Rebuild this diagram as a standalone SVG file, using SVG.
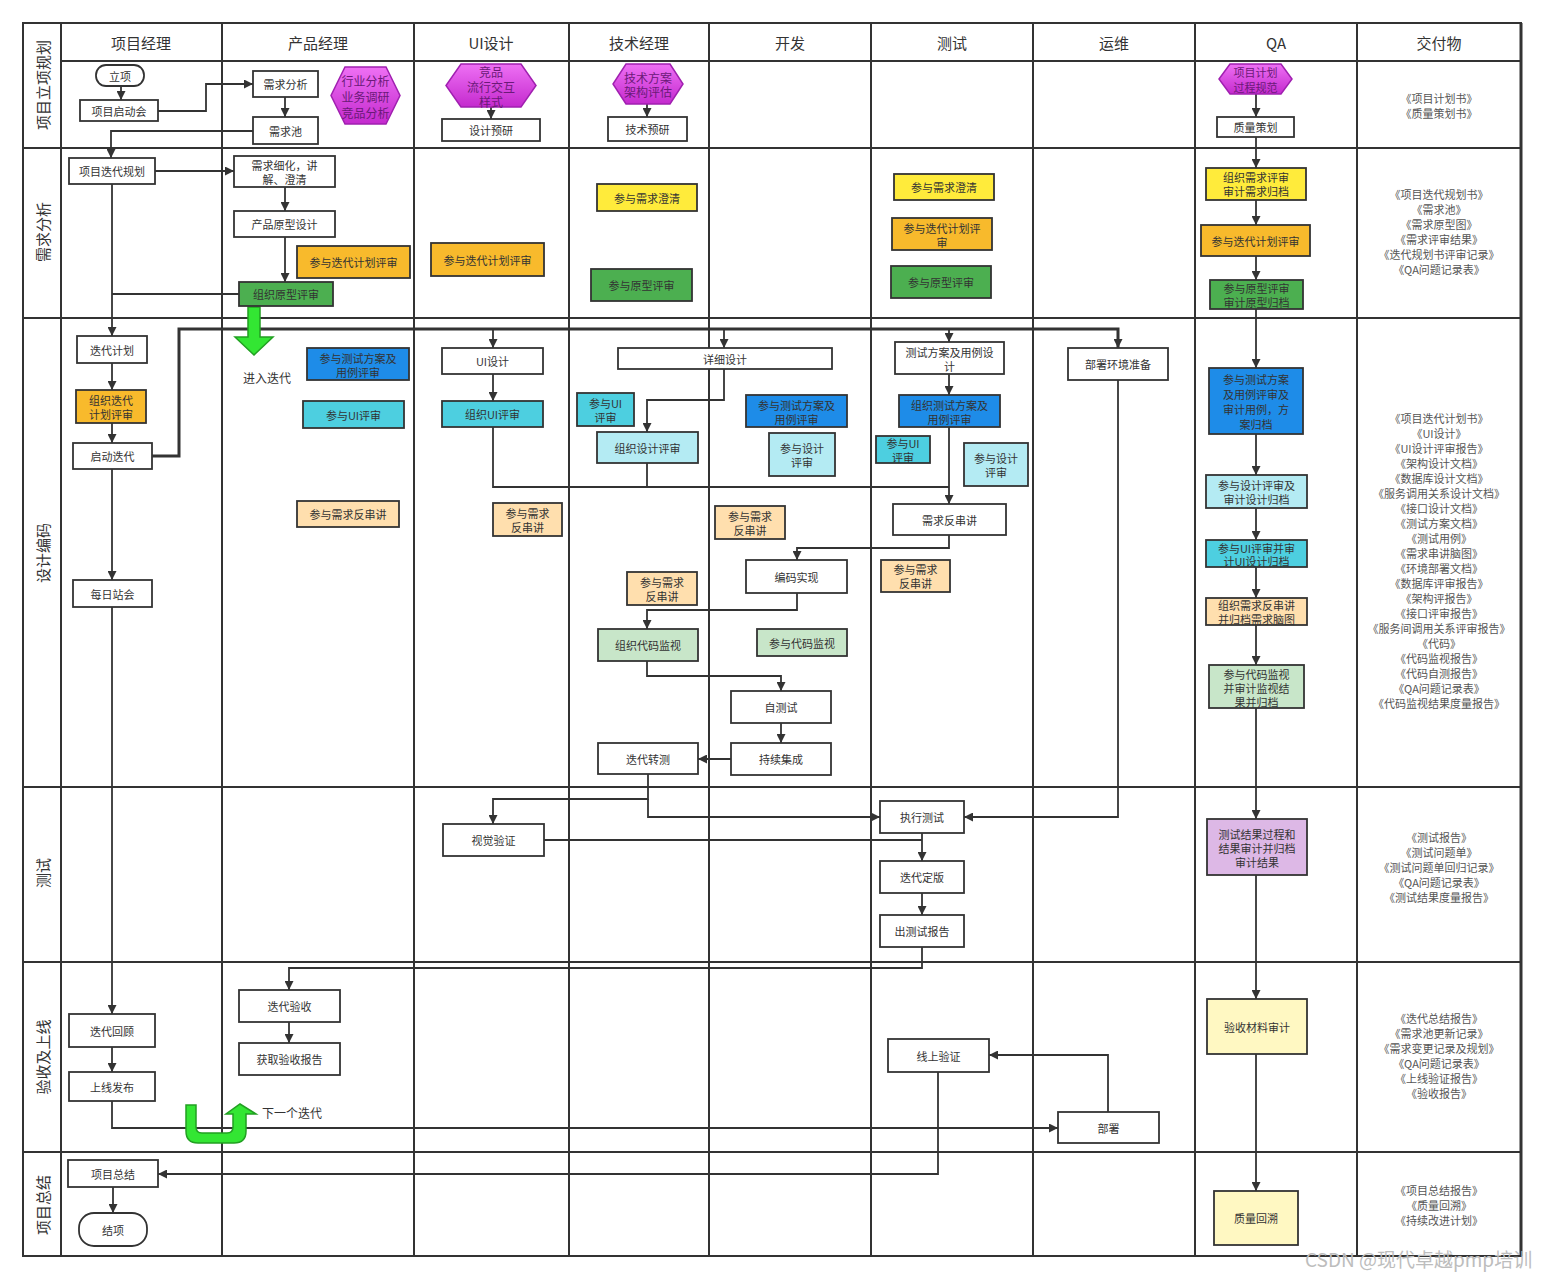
<svg xmlns="http://www.w3.org/2000/svg" width="1546" height="1280" viewBox="0 0 1546 1280">
<defs>
<style>
.g{stroke:#333;stroke-width:2;fill:none}
.n{fill:#fff;stroke:#333;stroke-width:1.8}
.or{fill:#F8BA2C;stroke:#333;stroke-width:1.8}
.ye{fill:#FFEB3B;stroke:#333;stroke-width:1.8}
.gr{fill:#4CAF50;stroke:#333;stroke-width:1.8}
.bl{fill:#1E8CE8;stroke:#333;stroke-width:1.8}
.cy{fill:#4DCFE0;stroke:#333;stroke-width:1.8}
.lc{fill:#B4EBF3;stroke:#333;stroke-width:1.8}
.pe{fill:#FFDFAE;stroke:#333;stroke-width:1.8}
.lg{fill:#C8E6C9;stroke:#333;stroke-width:1.8}
.li{fill:#DDB8E6;stroke:#333;stroke-width:1.8}
.py{fill:#FFF8C2;stroke:#333;stroke-width:1.8}
.hx{fill:url(#hg);stroke:#A020B0;stroke-width:1.5}
.t{font-family:"Noto Sans CJK SC","Liberation Sans",sans-serif;font-size:11px;fill:#333;text-anchor:middle;dominant-baseline:central}
.th{font-family:"Noto Sans CJK SC","Liberation Sans",sans-serif;font-size:12px;fill:#6B1A78;text-anchor:middle;dominant-baseline:central}
.h{font-family:"Noto Sans CJK SC","Liberation Sans",sans-serif;font-size:15px;fill:#333;text-anchor:middle;dominant-baseline:central}
.d{font-family:"Noto Sans CJK SC","Liberation Sans",sans-serif;font-size:11px;fill:#555;text-anchor:middle}
.l{font-family:"Noto Sans CJK SC","Liberation Sans",sans-serif;font-size:12px;fill:#333;text-anchor:middle;dominant-baseline:central}
.c{stroke:#333;stroke-width:1.8;fill:none;marker-end:url(#a)}
.c0{stroke:#333;stroke-width:1.8;fill:none}
.ga{fill:#33E633;stroke:#22A022;stroke-width:1.5}
</style>
<linearGradient id="hg" x1="0" y1="0" x2="0" y2="1">
<stop offset="0" stop-color="#EE70F4"/>
<stop offset="1" stop-color="#C42ACE"/>
</linearGradient>
<marker id="a" viewBox="0 0 10 10" refX="10" refY="5" markerWidth="9" markerHeight="9" markerUnits="userSpaceOnUse" orient="auto">
<path d="M0,0 L10,5 L0,10 z" fill="#333"/>
</marker>
</defs>
<rect width="1546" height="1280" fill="#fff"/>

<g id="grid">
<rect x="23" y="23" width="1498" height="1233" class="g"/>
<line x1="1521" y1="23" x2="1521" y2="1256" stroke="#333" stroke-width="3"/>
<line x1="61" y1="61" x2="1521" y2="61" class="g"/>
<line x1="23" y1="148" x2="1521" y2="148" class="g"/>
<line x1="23" y1="318" x2="1521" y2="318" class="g"/>
<line x1="23" y1="787" x2="1521" y2="787" class="g"/>
<line x1="23" y1="962" x2="1521" y2="962" class="g"/>
<line x1="23" y1="1152" x2="1521" y2="1152" class="g"/>
<line x1="61" y1="23" x2="61" y2="1256" class="g"/>
<line x1="222" y1="23" x2="222" y2="1256" class="g"/>
<line x1="414" y1="23" x2="414" y2="1256" class="g"/>
<line x1="569" y1="23" x2="569" y2="1256" class="g"/>
<line x1="709" y1="23" x2="709" y2="1256" class="g"/>
<line x1="871" y1="23" x2="871" y2="1256" class="g"/>
<line x1="1033" y1="23" x2="1033" y2="1256" class="g"/>
<line x1="1195" y1="23" x2="1195" y2="1256" class="g"/>
<line x1="1357" y1="23" x2="1357" y2="1256" class="g"/>
</g>

<g id="headers">
<text class="h" x="141" y="42">项目经理</text>
<text class="h" x="318" y="42">产品经理</text>
<text class="h" x="491" y="42">UI设计</text>
<text class="h" x="639" y="42">技术经理</text>
<text class="h" x="790" y="42">开发</text>
<text class="h" x="952" y="42">测试</text>
<text class="h" x="1114" y="42">运维</text>
<text class="h" x="1276" y="42">QA</text>
<text class="h" x="1439" y="42">交付物</text>
<text class="h" transform="translate(42,85) rotate(-90)">项目立项规划</text>
<text class="h" transform="translate(42,232) rotate(-90)">需求分析</text>
<text class="h" transform="translate(42,553) rotate(-90)">设计编码</text>
<text class="h" transform="translate(42,873) rotate(-90)">测试</text>
<text class="h" transform="translate(42,1057) rotate(-90)">验收及上线</text>
<text class="h" transform="translate(42,1205) rotate(-90)">项目总结</text>
</g>

<g id="connectors">
<path class="c" d="M121,86 V100"/>
<path class="c" d="M158,111 H206 V84 H253"/>
<path class="c" d="M285,97 V117"/>
<path class="c" d="M253,131 H111 V158"/>
<path class="c" d="M491,107 V119"/>
<path class="c" d="M647,104 V117"/>
<path class="c" d="M1256,94 V117"/>
<path class="c" d="M1256,137 V168"/>
<path class="c" d="M155,171 H234"/>
<path class="c" d="M285,187 V211"/>
<path class="c" d="M285,237 V282"/>
<path class="c" d="M1256,200 V225"/>
<path class="c" d="M1256,256 V280"/>
<path class="c" d="M1256,309 V368"/>
<path class="c" d="M112,184 V336"/>
<path class="c0" d="M112,294 H239"/>
<path class="c" d="M112,363 V390"/>
<path class="c" d="M112,423 V443"/>
<path class="c" d="M112,469 V580"/>
<path class="c" d="M112,607 V1014"/>
<path d="M152,456 H179 V329 H1118 V348" stroke="#333" stroke-width="3" fill="none" marker-end="url(#a)"/>
<path class="c" d="M493,329 V348"/>
<path class="c" d="M724,329 V348"/>
<path class="c" d="M949,329 V342"/>
<path class="c" d="M493,374 V401"/>
<path class="c0" d="M493,427 V487 H949"/>
<path class="c0" d="M647,463 V487"/>
<path class="c" d="M724,369 V400 H647 V432"/>
<path class="c" d="M949,374 V395"/>
<path class="c" d="M949,427 V504"/>
<path class="c" d="M949,535 V548 H797 V560"/>
<path class="c" d="M797,593 V610 H647 V629"/>
<path class="c" d="M647,661 V676 H781 V691"/>
<path class="c" d="M781,723 V743"/>
<path class="c" d="M731,759 H698"/>
<path class="c" d="M648,774 V799 H493 V824"/>
<path class="c" d="M648,799 V817 H880"/>
<path class="c" d="M1118,380 V817 H964"/>
<path class="c0" d="M544,840 H922"/>
<path class="c" d="M922,833 V861"/>
<path class="c" d="M922,893 V915"/>
<path class="c" d="M922,947 V968 H289 V990"/>
<path class="c" d="M289,1022 V1043"/>
<path class="c" d="M112,1047 V1072"/>
<path class="c" d="M112,1101 V1128 H1058"/>
<path class="c" d="M1108,1112 V1055 H989"/>
<path class="c" d="M938,1072 V1174 H158"/>
<path class="c" d="M113,1187 V1213"/>
<path class="c" d="M1256,434 V475"/>
<path class="c" d="M1256,508 V540"/>
<path class="c" d="M1256,567 V598"/>
<path class="c" d="M1256,625 V665"/>
<path class="c" d="M1256,708 V819"/>
<path class="c" d="M1256,875 V999"/>
<path class="c" d="M1256,1054 V1191"/>
</g>

<g id="green-arrows">
<polygon class="ga" points="248,307 260,307 260,337 273,337 254,355 235,337 248,337"/>
<text class="l" x="267" y="377">进入迭代</text>
<path class="ga" d="M186,1105 L196,1105 L196,1127 Q196,1133 202,1133 L227,1133 Q233,1133 233,1127 L233,1114 L226,1114 L240,1104 L256,1114 L246,1114 L246,1131 Q246,1143 234,1143 L198,1143 Q186,1143 186,1131 Z"/>
<text class="l" x="262" y="1112" style="text-anchor:start">下一个迭代</text>
</g>

<g id="n_lixiang"><rect class="n" x="96" y="65" width="48" height="21" rx="10"/><text class="t" x="120" y="75.5">立项</text></g>
<g id="n_qidonghui"><rect class="n" x="80" y="100" width="78" height="21"/><text class="t" x="119" y="110.5">项目启动会</text></g>
<g id="n_xqfx"><rect class="n" x="253" y="71" width="65" height="26"/><text class="t" x="285.5" y="84">需求分析</text></g>
<g id="n_xqc"><rect class="n" x="253" y="117" width="65" height="27"/><text class="t" x="285.5" y="130.5">需求池</text></g>
<g id="n_hex_pm"><polygon class="hx" points="345,67 386,67 400,95.5 386,124 345,124 331,95.5"/><text class="th" x="365.5" y="80">行业分析</text><text class="th" x="365.5" y="96">业务调研</text><text class="th" x="365.5" y="112">竞品分析</text></g>
<g id="n_hex_ui"><polygon class="hx" points="461,64 521,64 536,85.5 521,107 461,107 446,85.5"/><text class="th" x="491" y="71">竞品</text><text class="th" x="491" y="86">流行交互</text><text class="th" x="491" y="101">样式</text></g>
<g id="n_sjyy"><rect class="n" x="442" y="119" width="98" height="22"/><text class="t" x="491" y="130">设计预研</text></g>
<g id="n_hex_tm"><polygon class="hx" points="626,64 670,64 683,84 670,104 626,104 613,84"/><text class="th" x="648" y="77">技术方案</text><text class="th" x="648" y="91">架构评估</text></g>
<g id="n_jsyy"><rect class="n" x="608" y="117" width="79" height="24"/><text class="t" x="647.5" y="129">技术预研</text></g>
<g id="n_hex_qa"><polygon class="hx" points="1230,64 1281,64 1292,79 1281,94 1230,94 1219,79"/><text class="th" x="1255.5" y="72" style="font-size:11px">项目计划</text><text class="th" x="1255.5" y="87" style="font-size:11px">过程规范</text></g>
<g id="n_zlch"><rect class="n" x="1217" y="117" width="77" height="20"/><text class="t" x="1255.5" y="127">质量策划</text></g>

<g id="n_ddgh"><rect class="n" x="69" y="158" width="86" height="26"/><text class="t" x="112" y="171">项目迭代规划</text></g>
<g id="n_xqxh"><rect class="n" x="234" y="156" width="101" height="31"/><text class="t" x="284.5" y="165">需求细化，讲</text><text class="t" x="284.5" y="179">解、澄清</text></g>
<g id="n_cpyx"><rect class="n" x="234" y="211" width="101" height="26"/><text class="t" x="284.5" y="224">产品原型设计</text></g>
<g id="n_pm_ddjh"><rect class="or" x="297" y="246" width="113" height="32"/><text class="t" x="353.5" y="262">参与迭代计划评审</text></g>
<g id="n_zzyx"><rect class="gr" x="239" y="282" width="94" height="24"/><text class="t" x="286" y="294">组织原型评审</text></g>
<g id="n_ui_ddjh"><rect class="or" x="431" y="243" width="113" height="33"/><text class="t" x="487.5" y="259.5">参与迭代计划评审</text></g>
<g id="n_tm_xqcq"><rect class="ye" x="597" y="184" width="100" height="27"/><text class="t" x="647" y="197.5">参与需求澄清</text></g>
<g id="n_tm_yx"><rect class="gr" x="591" y="269" width="101" height="32"/><text class="t" x="641.5" y="285">参与原型评审</text></g>
<g id="n_t_xqcq"><rect class="ye" x="894" y="174" width="100" height="26"/><text class="t" x="944" y="187">参与需求澄清</text></g>
<g id="n_t_ddjh"><rect class="or" x="892" y="218" width="100" height="32"/><text class="t" x="942" y="228">参与迭代计划评</text><text class="t" x="942" y="242">审</text></g>
<g id="n_t_yx"><rect class="gr" x="891" y="266" width="100" height="32"/><text class="t" x="941" y="282">参与原型评审</text></g>
<g id="n_qa_xqps"><rect class="ye" x="1206" y="168" width="100" height="32"/><text class="t" x="1256" y="177">组织需求评审</text><text class="t" x="1256" y="191">审计需求归档</text></g>
<g id="n_qa_ddjh"><rect class="or" x="1201" y="225" width="109" height="31"/><text class="t" x="1255.5" y="240.5">参与迭代计划评审</text></g>
<g id="n_qa_yx"><rect class="gr" x="1210" y="280" width="93" height="29"/><text class="t" x="1256.5" y="288">参与原型评审</text><text class="t" x="1256.5" y="302">审计原型归档</text></g>

<g id="n_ddjh"><rect class="n" x="77" y="336" width="70" height="27"/><text class="t" x="112" y="349.5">迭代计划</text></g>
<g id="n_zzdd"><rect class="or" x="76" y="390" width="70" height="33"/><text class="t" x="111" y="400">组织迭代</text><text class="t" x="111" y="414">计划评审</text></g>
<g id="n_qddd"><rect class="n" x="73" y="443" width="79" height="26"/><text class="t" x="112.5" y="456">启动迭代</text></g>
<g id="n_mrzh"><rect class="n" x="73" y="580" width="79" height="27"/><text class="t" x="112.5" y="593.5">每日站会</text></g>
<g id="n_pm_csfa"><rect class="bl" x="307" y="348" width="102" height="32"/><text class="t" x="358" y="358">参与测试方案及</text><text class="t" x="358" y="372">用例评审</text></g>
<g id="n_pm_ui"><rect class="cy" x="303" y="401" width="101" height="27"/><text class="t" x="353.5" y="414.5">参与UI评审</text></g>
<g id="n_pm_fcj"><rect class="pe" x="297" y="501" width="102" height="26"/><text class="t" x="348" y="514">参与需求反串讲</text></g>
<g id="n_uisj"><rect class="n" x="442" y="348" width="101" height="26"/><text class="t" x="492.5" y="361">UI设计</text></g>
<g id="n_zzui"><rect class="cy" x="442" y="401" width="101" height="26"/><text class="t" x="492.5" y="414">组织UI评审</text></g>
<g id="n_ui_fcj"><rect class="pe" x="493" y="503" width="69" height="33"/><text class="t" x="527.5" y="513">参与需求</text><text class="t" x="527.5" y="527">反串讲</text></g>
<g id="n_xxsj"><rect class="n" x="618" y="348" width="214" height="21"/><text class="t" x="725" y="358.5">详细设计</text></g>
<g id="n_tm_ui"><rect class="cy" x="577" y="393" width="57" height="33"/><text class="t" x="605.5" y="403">参与UI</text><text class="t" x="605.5" y="417">评审</text></g>
<g id="n_zzsjps"><rect class="lc" x="597" y="432" width="101" height="31"/><text class="t" x="647.5" y="447.5">组织设计评审</text></g>
<g id="n_tm_fcj"><rect class="pe" x="627" y="572" width="70" height="33"/><text class="t" x="662" y="582">参与需求</text><text class="t" x="662" y="596">反串讲</text></g>
<g id="n_zzdmjs"><rect class="lg" x="598" y="629" width="100" height="32"/><text class="t" x="648" y="645">组织代码监视</text></g>
<g id="n_ddzc"><rect class="n" x="598" y="743" width="100" height="31"/><text class="t" x="648" y="758.5">迭代转测</text></g>
<g id="n_dev_csfa"><rect class="bl" x="746" y="395" width="101" height="32"/><text class="t" x="796.5" y="405">参与测试方案及</text><text class="t" x="796.5" y="419">用例评审</text></g>
<g id="n_dev_sjps"><rect class="lc" x="769" y="433" width="66" height="43"/><text class="t" x="802" y="448">参与设计</text><text class="t" x="802" y="462">评审</text></g>
<g id="n_dev_fcj"><rect class="pe" x="715" y="506" width="70" height="33"/><text class="t" x="750" y="516">参与需求</text><text class="t" x="750" y="530">反串讲</text></g>
<g id="n_bmsx"><rect class="n" x="746" y="560" width="101" height="33"/><text class="t" x="796.5" y="576.5">编码实现</text></g>
<g id="n_dev_dmjs"><rect class="lg" x="757" y="629" width="90" height="27"/><text class="t" x="802" y="642.5">参与代码监视</text></g>
<g id="n_zcs"><rect class="n" x="731" y="691" width="100" height="32"/><text class="t" x="781" y="707">自测试</text></g>
<g id="n_cxjc"><rect class="n" x="731" y="743" width="100" height="32"/><text class="t" x="781" y="759">持续集成</text></g>
<g id="n_csfa"><rect class="n" x="895" y="342" width="109" height="32"/><text class="t" x="949.5" y="352">测试方案及用例设</text><text class="t" x="949.5" y="366">计</text></g>
<g id="n_zzcsfa"><rect class="bl" x="899" y="395" width="101" height="32"/><text class="t" x="949.5" y="405">组织测试方案及</text><text class="t" x="949.5" y="419">用例评审</text></g>
<g id="n_t_ui"><rect class="cy" x="876" y="436" width="54" height="27"/><text class="t" x="903" y="443">参与UI</text><text class="t" x="903" y="457">评审</text></g>
<g id="n_t_sjps"><rect class="lc" x="964" y="443" width="64" height="43"/><text class="t" x="996" y="458">参与设计</text><text class="t" x="996" y="472">评审</text></g>
<g id="n_xqfcj"><rect class="n" x="893" y="504" width="113" height="31"/><text class="t" x="949.5" y="519.5">需求反串讲</text></g>
<g id="n_t_fcj"><rect class="pe" x="881" y="560" width="69" height="32"/><text class="t" x="915.5" y="569">参与需求</text><text class="t" x="915.5" y="583">反串讲</text></g>
<g id="n_bshj"><rect class="n" x="1068" y="348" width="100" height="32"/><text class="t" x="1118" y="364">部署环境准备</text></g>
<g id="n_qa_csfa"><rect class="bl" x="1209" y="368" width="94" height="66"/><text class="t" x="1256" y="379">参与测试方案</text><text class="t" x="1256" y="394">及用例评审及</text><text class="t" x="1256" y="409">审计用例，方</text><text class="t" x="1256" y="424">案归档</text></g>
<g id="n_qa_sjps"><rect class="lc" x="1206" y="475" width="101" height="33"/><text class="t" x="1256.5" y="485">参与设计评审及</text><text class="t" x="1256.5" y="499">审计设计归档</text></g>
<g id="n_qa_ui"><rect class="cy" x="1206" y="540" width="101" height="27"/><text class="t" x="1256.5" y="548">参与UI评审并审</text><text class="t" x="1256.5" y="561">计UI设计归档</text></g>
<g id="n_qa_fcj"><rect class="pe" x="1206" y="598" width="101" height="27"/><text class="t" x="1256.5" y="605">组织需求反串讲</text><text class="t" x="1256.5" y="619">并归档需求脑图</text></g>
<g id="n_qa_dmjs"><rect class="lg" x="1209" y="665" width="95" height="43"/><text class="t" x="1256.5" y="674">参与代码监视</text><text class="t" x="1256.5" y="688">并审计监视结</text><text class="t" x="1256.5" y="702">果并归档</text></g>

<g id="n_sjyz"><rect class="n" x="443" y="824" width="101" height="32"/><text class="t" x="493.5" y="840">视觉验证</text></g>
<g id="n_zxcs"><rect class="n" x="880" y="801" width="84" height="32"/><text class="t" x="922" y="817">执行测试</text></g>
<g id="n_dddb"><rect class="n" x="880" y="861" width="84" height="32"/><text class="t" x="922" y="877">迭代定版</text></g>
<g id="n_ccsbg"><rect class="n" x="880" y="915" width="84" height="32"/><text class="t" x="922" y="931">出测试报告</text></g>
<g id="n_qa_csjg"><rect class="li" x="1207" y="819" width="100" height="56"/><text class="t" x="1257" y="834">测试结果过程和</text><text class="t" x="1257" y="848">结果审计并归档</text><text class="t" x="1257" y="862">审计结果</text></g>

<g id="n_ddhg"><rect class="n" x="69" y="1014" width="86" height="33"/><text class="t" x="112" y="1030.5">迭代回顾</text></g>
<g id="n_sxfb"><rect class="n" x="69" y="1072" width="86" height="29"/><text class="t" x="112" y="1086.5">上线发布</text></g>
<g id="n_ddys"><rect class="n" x="239" y="990" width="101" height="32"/><text class="t" x="289.5" y="1006">迭代验收</text></g>
<g id="n_hqys"><rect class="n" x="239" y="1043" width="101" height="32"/><text class="t" x="289.5" y="1059">获取验收报告</text></g>
<g id="n_xsyz"><rect class="n" x="888" y="1039" width="101" height="33"/><text class="t" x="938.5" y="1055.5">线上验证</text></g>
<g id="n_bs"><rect class="n" x="1058" y="1112" width="101" height="31"/><text class="t" x="1108.5" y="1127.5">部署</text></g>
<g id="n_qa_ys"><rect class="py" x="1207" y="999" width="100" height="55"/><text class="t" x="1257" y="1026.5">验收材料审计</text></g>

<g id="n_xmzj"><rect class="n" x="68" y="1160" width="90" height="27"/><text class="t" x="113" y="1173.5">项目总结</text></g>
<g id="n_jx"><rect class="n" x="79" y="1213" width="68" height="33" rx="15"/><text class="t" x="113" y="1229.5">结项</text></g>
<g id="n_qa_zlhs"><rect class="py" x="1214" y="1191" width="84" height="54"/><text class="t" x="1256" y="1218">质量回溯</text></g>

<g id="deliverables">
<text class="d" x="1439" y="103"><tspan x="1439">《项目计划书》</tspan><tspan x="1439" dy="15">《质量策划书》</tspan></text>
<text class="d" x="1439" y="199"><tspan x="1439">《项目迭代规划书》</tspan><tspan x="1439" dy="15">《需求池》</tspan><tspan x="1439" dy="15">《需求原型图》</tspan><tspan x="1439" dy="15">《需求评审结果》</tspan><tspan x="1439" dy="15">《迭代规划书评审记录》</tspan><tspan x="1439" dy="15">《QA问题记录表》</tspan></text>
<text class="d" x="1439" y="423"><tspan x="1439">《项目迭代计划书》</tspan><tspan x="1439" dy="15">《UI设计》</tspan><tspan x="1439" dy="15">《UI设计评审报告》</tspan><tspan x="1439" dy="15">《架构设计文档》</tspan><tspan x="1439" dy="15">《数据库设计文档》</tspan><tspan x="1439" dy="15">《服务调用关系设计文档》</tspan><tspan x="1439" dy="15">《接口设计文档》</tspan><tspan x="1439" dy="15">《测试方案文档》</tspan><tspan x="1439" dy="15">《测试用例》</tspan><tspan x="1439" dy="15">《需求串讲脑图》</tspan><tspan x="1439" dy="15">《环境部署文档》</tspan><tspan x="1439" dy="15">《数据库评审报告》</tspan><tspan x="1439" dy="15">《架构评报告》</tspan><tspan x="1439" dy="15">《接口评审报告》</tspan><tspan x="1439" dy="15">《服务间调用关系评审报告》</tspan><tspan x="1439" dy="15">《代码》</tspan><tspan x="1439" dy="15">《代码监视报告》</tspan><tspan x="1439" dy="15">《代码自测报告》</tspan><tspan x="1439" dy="15">《QA问题记录表》</tspan><tspan x="1439" dy="15">《代码监视结果度量报告》</tspan></text>
<text class="d" x="1439" y="842"><tspan x="1439">《测试报告》</tspan><tspan x="1439" dy="15">《测试问题单》</tspan><tspan x="1439" dy="15">《测试问题单回归记录》</tspan><tspan x="1439" dy="15">《QA问题记录表》</tspan><tspan x="1439" dy="15">《测试结果度量报告》</tspan></text>
<text class="d" x="1439" y="1023"><tspan x="1439">《迭代总结报告》</tspan><tspan x="1439" dy="15">《需求池更新记录》</tspan><tspan x="1439" dy="15">《需求变更记录及规划》</tspan><tspan x="1439" dy="15">《QA问题记录表》</tspan><tspan x="1439" dy="15">《上线验证报告》</tspan><tspan x="1439" dy="15">《验收报告》</tspan></text>
<text class="d" x="1439" y="1195"><tspan x="1439">《项目总结报告》</tspan><tspan x="1439" dy="15">《质量回溯》</tspan><tspan x="1439" dy="15">《持续改进计划》</tspan></text>
</g>

<text x="1305" y="1267" style="font-family:'Noto Sans CJK SC','Liberation Sans',sans-serif;font-size:19px;fill:#bdbdbd">CSDN @现代卓越pmp培训</text>
</svg>
